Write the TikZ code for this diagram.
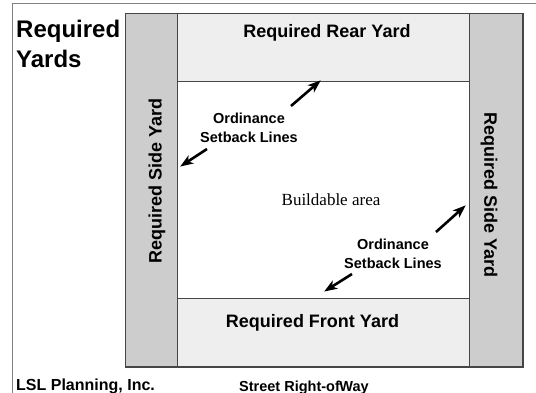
\documentclass[tikz,border=0pt]{standalone}
\usepackage{fontspec}
\setmainfont{Liberation Sans}[BoldFont={Liberation Sans Bold}]
\newfontfamily\serifface{Liberation Serif}
\newfontfamily\boldsans{Liberation Sans Bold}
\usetikzlibrary{arrows.meta}
\definecolor{sidefill}{RGB}{205,205,205}
\definecolor{yardfill}{RGB}{238,238,238}
\definecolor{edge}{RGB}{70,70,70}
\definecolor{frame}{RGB}{130,130,130}
\begin{document}
\begin{tikzpicture}[x=1pt,y=-1pt,
  yardbox/.style={draw=edge, line width=1pt, inner sep=0pt, anchor=north west},
  yardlbl/.style={font=\boldsans\fontsize{18}{21}\selectfont, inner sep=0pt},
  notelbl/.style={font=\boldsans\fontsize{14.5}{19}\selectfont, align=center, inner sep=0pt},
  titlelbl/.style={font=\boldsans\fontsize{24}{30}\selectfont, inner sep=0pt, anchor=base west},
  footlbl/.style={inner sep=0pt, anchor=base west},
  setarrow/.style={-{Stealth[length=13pt,width=9.5pt,inset=3.5pt]}, line width=2.6pt, shorten >=-1pt},
]
\useasboundingbox (0,0) rectangle (536,393);
\clip (0,0) rectangle (536,393);
\fill[white] (0,0) rectangle (536,393);
\draw[frame, line width=1pt] (12,4) rectangle (560,420);

% yards
\node[yardbox, fill=sidefill, minimum width=52pt, minimum height=353pt] (lside) at (125,13) {};
\node[yardbox, fill=sidefill, minimum width=53pt, minimum height=353pt] (rside) at (469,13) {};
\node[yardbox, fill=yardfill, minimum width=292pt, minimum height=68pt] (rear) at (177,13) {};
\node[yardbox, fill=yardfill, minimum width=292pt, minimum height=68pt] (front) at (177,298) {};
\node[inner sep=0pt, anchor=north west, minimum width=292pt, minimum height=217pt] (build) at (177,81) {};
\draw[edge, line width=1.6pt] (lside.south west) -- (rside.south east) -- (rside.north east);

% labels
\node[yardlbl] (rearlbl) at (327,33) {Required Rear Yard};
\node[yardlbl] (frontlbl) at (312.5,323) {Required Front Yard};
\node[yardlbl, rotate=90] (lsidelbl) at (157,181) {Required Side Yard};
\node[yardlbl, rotate=-90] (rsidelbl) at (489,195) {Required Side Yard};
\node[inner sep=0pt, font=\serifface\fontsize{17}{20}\selectfont] (buildlbl) at (331,200) {Buildable area};

\node[notelbl] (note1) at (249,128) {Ordinance\\Setback Lines};
\node[notelbl] (note2) at (393,254) {Ordinance\\Setback Lines};

% arrows
\coordinate (t1) at (291,106); \coordinate (h1) at (320,81);
\coordinate (t2) at (207,149); \coordinate (h2) at (181,166);
\coordinate (t3) at (436,232); \coordinate (h3) at (465,206);
\coordinate (t4) at (352,274); \coordinate (h4) at (325,291);
\draw[setarrow] (t1) -- (h1);
\draw[setarrow] (t2) -- (h2);
\draw[setarrow] (t3) -- (h3);
\draw[setarrow] (t4) -- (h4);

% titles
\node[titlelbl] (title1) at (16,38) {Required};
\node[titlelbl] (title2) at (16,68) {Yards};
\node[footlbl, font=\boldsans\fontsize{16}{19}\selectfont] (lsl) at (16,390) {LSL Planning, Inc.};
\node[footlbl, font=\boldsans\fontsize{14.5}{17}\selectfont] (street) at (239,391) {Street Right-of\kern-0.5pt Way};
\end{tikzpicture}
\end{document}
